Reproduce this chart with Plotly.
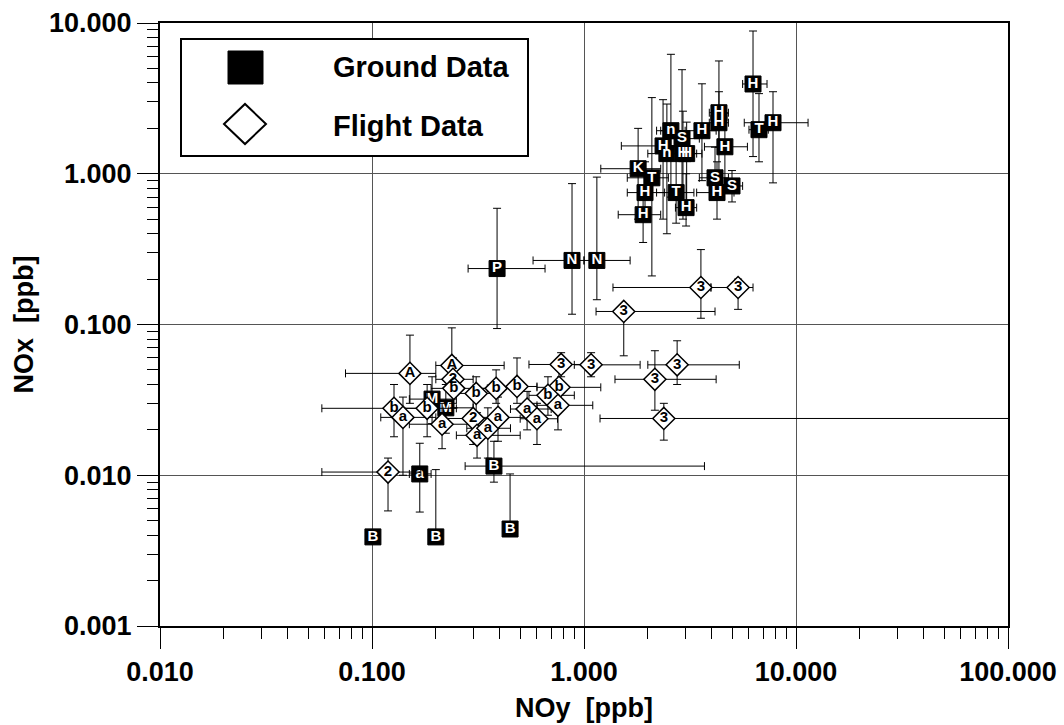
import plotly.graph_objects as go

# ---------------- Ground data (filled squares) ----------------
ground_lbl = ["H", "H", "T", "H", "H", "H", "H", "n", "S", "H", "n", "H", "H",
              "K", "T", "H", "H", "T", "H", "S", "H", "S",
              "P", "N", "N", "a", "B", "B", "B", "B", "M", "M"]
ground_noy = [6.27, 7.79, 6.69, 4.33, 4.33, 3.60, 4.62, 2.57, 2.90, 2.36, 2.46, 2.93, 3.05,
              1.80, 2.09, 1.94, 1.90, 2.72, 3.03, 4.15, 4.24, 4.99,
              0.389, 0.878, 1.15, 0.168, 0.376, 0.101, 0.200, 0.448, 0.192, 0.223]
ground_nox = [3.94, 2.18, 1.96, 2.54, 2.18, 1.93, 1.51, 1.93, 1.71, 1.53, 1.36, 1.36, 1.36,
              1.08, 0.94, 0.75, 0.535, 0.75, 0.596, 0.94, 0.75, 0.83,
              0.235, 0.266, 0.266, 0.0102, 0.0115, 0.0039, 0.0039, 0.0044, 0.032, 0.028]
ground_noy_lo = [5.6, 5.7, 6.0, 3.9, 3.9, 2.3, 3.7, 2.2, 2.4, 1.5, 2.0, 2.4, 2.6,
                 1.2, 1.6, 1.6, 1.45, 2.2, 2.7, 3.5, 3.4, 4.3,
                 0.284, 0.575, 1.0, 0.15, 0.275, 0.101, 0.200, 0.448, 0.15, 0.17]
ground_noy_hi = [7.3, 11.4, 7.4, 4.8, 4.8, 4.2, 5.9, 3.0, 3.5, 2.9, 3.0, 3.4, 3.6,
                 2.3, 2.5, 2.4, 2.3, 3.3, 3.4, 4.8, 5.1, 5.6,
                 0.655, 1.0, 1.65, 0.19, 3.7, 0.101, 0.200, 0.448, 0.25, 0.30]
ground_nox_lo = [1.3, 0.87, 1.2, 1.5, 0.85, 0.9, 0.8, 0.7, 0.6, 0.5, 0.4, 0.5, 0.6,
                 0.5, 0.21, 0.5, 0.35, 0.47, 0.45, 0.7, 0.5, 0.65,
                 0.094, 0.117, 0.146, 0.0057, 0.009, 0.0039, 0.0039, 0.0044, 0.022, 0.019]
ground_nox_hi = [8.85, 3.5, 3.4, 5.6, 3.5, 3.95, 2.5, 6.2, 4.9, 3.1, 2.9, 2.6, 2.2,
                 2.0, 3.2, 1.2, 0.75, 1.9, 1.0, 1.5, 1.2, 1.05,
                 0.59, 0.86, 0.95, 0.0163, 0.0168, 0.0039, 0.0109, 0.0102, 0.045, 0.040]

# ---------------- Flight data (open diamonds) ----------------
flight_lbl = ["3", "3", "3", "3", "3", "3", "3", "3",
              "A", "A", "2", "b", "b", "b", "b", "b", "a", "b", "a", "2",
              "a", "a", "a", "a", "a", "b", "b", "a", "2"]
flight_noy = [3.56, 5.33, 1.54, 0.78, 1.08, 2.75, 2.16, 2.38,
              0.151, 0.238, 0.241, 0.243, 0.310, 0.385, 0.483, 0.127, 0.140, 0.182, 0.214, 0.300,
              0.313, 0.352, 0.393, 0.539, 0.600, 0.762, 0.676, 0.754, 0.119]
flight_nox = [0.176, 0.176, 0.122, 0.0543, 0.054, 0.054, 0.0433, 0.0238,
              0.0474, 0.0535, 0.0433, 0.0377, 0.0349, 0.0377, 0.0388, 0.0278, 0.0242, 0.0278, 0.0218, 0.0238,
              0.0184, 0.0205, 0.0242, 0.0275, 0.0237, 0.0383, 0.0339, 0.0291, 0.0105]
flight_noy_lo = [1.37, 3.97, 1.14, 0.55, 0.90, 2.0, 1.4, 1.19,
                 0.075, 0.20, 0.20, 0.19, 0.25, 0.30, 0.40, 0.058, 0.11, 0.13, 0.15, 0.22,
                 0.25, 0.28, 0.30, 0.45, 0.50, 0.60, 0.55, 0.60, 0.058]
flight_noy_hi = [3.97, 6.27, 4.15, 1.0, 1.84, 5.4, 4.2, 200.0,
                 0.20, 0.42, 0.30, 0.35, 0.40, 0.48, 0.60, 0.17, 0.20, 0.25, 0.30, 0.40,
                 0.50, 0.45, 0.55, 0.70, 0.75, 1.2, 0.90, 1.1, 0.17]
flight_nox_lo = [0.11, 0.126, 0.062, 0.045, 0.045, 0.040, 0.027, 0.0171,
                 0.030, 0.035, 0.030, 0.028, 0.025, 0.030, 0.030, 0.018, 0.010, 0.018, 0.015, 0.016,
                 0.013, 0.013, 0.0168, 0.020, 0.016, 0.030, 0.025, 0.020, 0.0058]
flight_nox_hi = [0.314, 0.20, 0.13, 0.065, 0.065, 0.078, 0.067, 0.030,
                 0.085, 0.095, 0.060, 0.050, 0.045, 0.050, 0.060, 0.040, 0.033, 0.040, 0.030, 0.035,
                 0.026, 0.028, 0.033, 0.036, 0.030, 0.050, 0.045, 0.035, 0.013]

x_tickvals = [0.01, 0.1, 1, 10, 100]
x_ticktext = ["0.010", "0.100", "1.000", "10.000", "100.000"]
y_tickvals = [0.001, 0.01, 0.1, 1, 10]
y_ticktext = ["0.001", "0.010", "0.100", "1.000", "10.000"]


def err(center, lo, hi):
    plus = [h - c for c, h in zip(center, hi)]
    minus = [c - l for c, l in zip(center, lo)]
    return plus, minus


FONT = "Liberation Sans, Arial, sans-serif"

fig = go.Figure()

gxp, gxm = err(ground_noy, ground_noy_lo, ground_noy_hi)
gyp, gym = err(ground_nox, ground_nox_lo, ground_nox_hi)
fig.add_trace(go.Scatter(
    x=ground_noy, y=ground_nox, text=ground_lbl, mode="markers+text",
    textposition="middle center",
    textfont=dict(family=FONT, size=15, color="white", weight="bold"),
    marker=dict(symbol="square", size=16, color="black", line=dict(color="black", width=1)),
    error_x=dict(type="data", array=gxp, arrayminus=gxm, color="black", thickness=1, width=4),
    error_y=dict(type="data", array=gyp, arrayminus=gym, color="black", thickness=1, width=4),
    showlegend=False, cliponaxis=True,
))

fxp, fxm = err(flight_noy, flight_noy_lo, flight_noy_hi)
fyp, fym = err(flight_nox, flight_nox_lo, flight_nox_hi)
fig.add_trace(go.Scatter(
    x=flight_noy, y=flight_nox, text=flight_lbl, mode="markers+text",
    textposition="middle center",
    textfont=dict(family=FONT, size=15, color="black", weight="bold"),
    marker=dict(symbol="diamond", size=17, color="white", line=dict(color="black", width=1.5)),
    error_x=dict(type="data", array=fxp, arrayminus=fxm, color="black", thickness=1, width=4),
    error_y=dict(type="data", array=fyp, arrayminus=fym, color="black", thickness=1, width=4),
    showlegend=False, cliponaxis=True,
))

# plot area in pixels
L, R, T, B = 160, 1008, 23, 626
W, H = R - L, B - T


def px(x):
    return (x - L) / W


def py(y):
    return (B - y) / H


# legend box, glyphs and labels
shapes = [
    dict(type="rect", xref="paper", yref="paper", x0=px(181), x1=px(528), y0=py(156), y1=py(39),
         line=dict(color="black", width=2), fillcolor="white", layer="above"),
    dict(type="rect", xref="paper", yref="paper", x0=px(228), x1=px(263), y0=py(84), y1=py(51),
         line=dict(color="black", width=1), fillcolor="black", layer="above"),
    dict(type="path", xref="paper", yref="paper",
         path=f"M {px(224)} {py(124)} L {px(245)} {py(104)} L {px(266)} {py(124)} L {px(245)} {py(144)} Z",
         line=dict(color="black", width=2), fillcolor="white", layer="above"),
]
annotations = [
    dict(xref="paper", yref="paper", x=px(331), y=py(67), text="Ground Data", showarrow=False,
         xanchor="left", yanchor="middle", font=dict(family=FONT, size=29, color="black", weight="bold")),
    dict(xref="paper", yref="paper", x=px(331), y=py(126), text="Flight Data", showarrow=False,
         xanchor="left", yanchor="middle", font=dict(family=FONT, size=29, color="black", weight="bold")),
]

axis_common = dict(
    type="log", showline=True, linecolor="black", linewidth=2, mirror=True, automargin=False,
    ticks="outside", ticklen=21, tickwidth=1, tickcolor="black",
    showgrid=True, gridcolor="#555555", gridwidth=1, zeroline=False,
    tickfont=dict(family=FONT, size=27, color="black", weight="bold"),
    minor=dict(ticks="outside", ticklen=11, tickwidth=1, tickcolor="black", dtick="D1", showgrid=False),
)

fig.update_xaxes(
    **axis_common, range=[-2, 2], tickvals=x_tickvals, ticktext=x_ticktext,
    title=dict(text="NOy\u00a0\u00a0[ppb]", font=dict(family=FONT, size=27, color="black", weight="bold"),
               standoff=12),
)
fig.update_yaxes(
    **axis_common, range=[-3, 1], tickvals=y_tickvals, ticktext=y_ticktext,
    title=dict(text="NOx\u00a0\u00a0[ppb]", font=dict(family=FONT, size=27, color="black", weight="bold"),
               standoff=8),
)

fig.update_layout(
    width=1064, height=725,
    margin=dict(l=L, r=1064 - R, t=T, b=725 - B),
    paper_bgcolor="white", plot_bgcolor="white",
    shapes=shapes, annotations=annotations,
)

fig.write_html("out.html")
